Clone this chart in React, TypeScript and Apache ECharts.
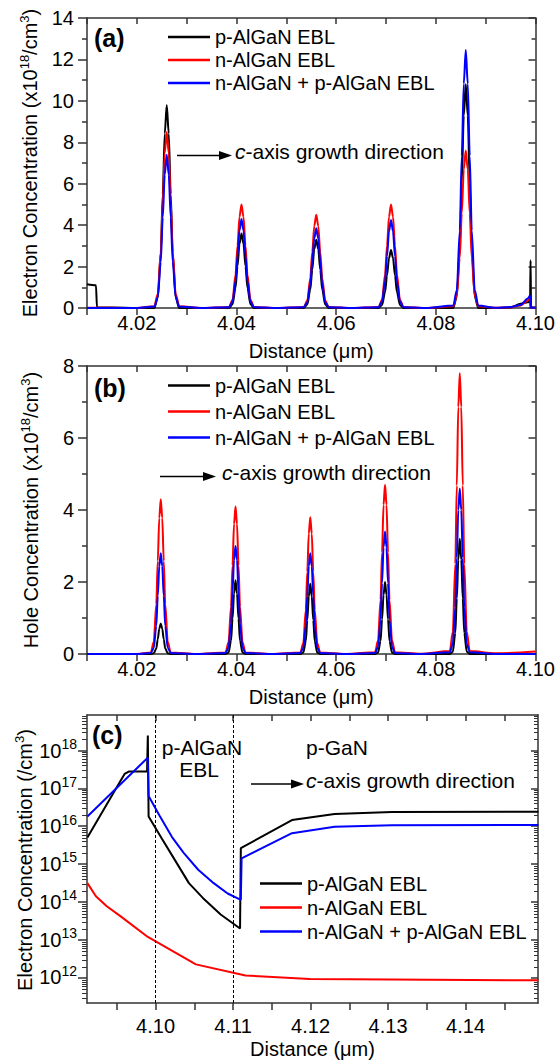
import React, { useEffect, useRef } from 'react';
import * as echarts from 'echarts';

const FONT = "'Liberation Sans', Arial, Helvetica, sans-serif";
const NAMES = ['p-AlGaN EBL', 'n-AlGaN EBL', 'n-AlGaN + p-AlGaN EBL'];
const COLORS = ['#000000', '#ff0000', '#0000ff'];
const AXIS_COLOR = '#333333';

// ---------- Panel (a): electron concentration (x10^18 /cm^3) ----------
const distA = [
  4.0100, 4.0118, 4.0120, 4.0150, 4.0200,
  4.0235, 4.0242, 4.0248, 4.0252, 4.0256, 4.0260, 4.0264, 4.0268, 4.0272, 4.0278, 4.0285,
  4.0330,
  4.0385, 4.0392, 4.0398, 4.0402, 4.0406, 4.0410, 4.0414, 4.0418, 4.0422, 4.0428, 4.0435,
  4.0480,
  4.0535, 4.0542, 4.0548, 4.0552, 4.0556, 4.0560, 4.0564, 4.0568, 4.0572, 4.0578, 4.0585,
  4.0630,
  4.0685, 4.0692, 4.0698, 4.0702, 4.0706, 4.0710, 4.0714, 4.0718, 4.0722, 4.0728, 4.0735,
  4.0780,
  4.0835, 4.0842, 4.0848, 4.0852, 4.0856, 4.0860, 4.0864, 4.0868, 4.0872, 4.0878, 4.0885,
  4.0920, 4.0950, 4.0970, 4.0984, 4.0989, 4.0990, 4.0991, 4.0995, 4.1000,
];
const elecA_p = [
  1.15, 1.1, 0.03, 0.02, 0,
  0, 0.49, 2.65, 5.49, 8.43, 9.8, 8.43, 5.49, 2.65, 0.49, 0,
  0,
  0, 0.18, 0.97, 2.02, 3.10, 3.6, 3.10, 2.02, 0.97, 0.18, 0,
  0,
  0, 0.17, 0.89, 1.85, 2.84, 3.3, 2.84, 1.85, 0.89, 0.17, 0,
  0,
  0, 0.14, 0.76, 1.57, 2.41, 2.8, 2.41, 1.57, 0.76, 0.14, 0,
  0,
  0, 0.54, 2.92, 6.05, 9.29, 10.8, 9.29, 6.05, 2.92, 0.54, 0,
  0, 0.02, 0.2, 0.28, 0.3, 2.3, 0.05, 0.03, 0.02,
];
const elecA_n = [
  0.01, 0.01, 0.01, 0.01, 0,
  0.09, 0.68, 2.72, 5.10, 7.48, 8.5, 7.48, 5.10, 2.72, 0.68, 0.09,
  0,
  0.05, 0.40, 1.60, 3.00, 4.40, 5.0, 4.40, 3.00, 1.60, 0.40, 0.05,
  0,
  0.05, 0.36, 1.44, 2.70, 3.96, 4.5, 3.96, 2.70, 1.44, 0.36, 0.05,
  0,
  0.05, 0.40, 1.60, 3.00, 4.40, 5.0, 4.40, 3.00, 1.60, 0.40, 0.05,
  0,
  0.08, 0.61, 2.43, 4.56, 6.69, 7.6, 6.69, 4.56, 2.43, 0.61, 0.08,
  0.01, 0.04, 0.12, 0.35, 0.5, 0.02, 0.01, 0.01, 0.01,
];
const elecA_np = [
  0, 0, 0, 0, 0,
  0.07, 0.52, 2.22, 4.37, 6.44, 7.4, 6.44, 4.37, 2.22, 0.52, 0.07,
  0,
  0.04, 0.30, 1.29, 2.54, 3.74, 4.3, 3.74, 2.54, 1.29, 0.30, 0.04,
  0,
  0.04, 0.27, 1.16, 2.27, 3.35, 3.85, 3.35, 2.27, 1.16, 0.27, 0.04,
  0,
  0.04, 0.30, 1.28, 2.51, 3.70, 4.25, 3.70, 2.51, 1.28, 0.30, 0.04,
  0,
  0.12, 0.87, 3.74, 7.35, 10.83, 12.45, 10.83, 7.35, 3.74, 0.87, 0.12,
  0.01, 0.05, 0.15, 0.45, 0.6, 0.02, 0.01, 0.01, 0.01,
];

// ---------- Panel (b): hole concentration (x10^18 /cm^3) ----------
const distB = [
  4.0100, 4.0200,
  4.0228, 4.0234, 4.0239, 4.0242, 4.0245, 4.0248, 4.0251, 4.0254, 4.0257, 4.0262, 4.0268,
  4.0320,
  4.0378, 4.0384, 4.0389, 4.0392, 4.0395, 4.0398, 4.0401, 4.0404, 4.0407, 4.0412, 4.0418,
  4.0470,
  4.0528, 4.0534, 4.0539, 4.0542, 4.0545, 4.0548, 4.0551, 4.0554, 4.0557, 4.0562, 4.0568,
  4.0620,
  4.0678, 4.0684, 4.0689, 4.0692, 4.0695, 4.0698, 4.0701, 4.0704, 4.0707, 4.0712, 4.0718,
  4.0770,
  4.0828, 4.0834, 4.0839, 4.0842, 4.0845, 4.0848, 4.0851, 4.0854, 4.0857, 4.0862, 4.0868,
  4.0920, 4.1000,
];
const holeB_p = [
  0, 0,
  0, 0.02, 0.15, 0.41, 0.70, 0.85, 0.70, 0.41, 0.15, 0.02, 0,
  0,
  0, 0.04, 0.37, 0.98, 1.68, 2.05, 1.68, 0.98, 0.37, 0.04, 0,
  0,
  0, 0.04, 0.35, 0.94, 1.60, 1.95, 1.60, 0.94, 0.35, 0.04, 0,
  0,
  0, 0.04, 0.36, 0.96, 1.64, 2.0, 1.64, 0.96, 0.36, 0.04, 0,
  0,
  0, 0.06, 0.58, 1.54, 2.62, 3.2, 2.62, 1.54, 0.58, 0.06, 0,
  0, 0,
];
const holeB_n = [
  0, 0,
  0.04, 0.34, 1.38, 2.58, 3.78, 4.3, 3.78, 2.58, 1.38, 0.34, 0.04,
  0,
  0.04, 0.33, 1.31, 2.46, 3.61, 4.1, 3.61, 2.46, 1.31, 0.33, 0.04,
  0,
  0.04, 0.30, 1.22, 2.28, 3.34, 3.8, 3.34, 2.28, 1.22, 0.30, 0.04,
  0,
  0.05, 0.38, 1.50, 2.82, 4.14, 4.7, 4.14, 2.82, 1.50, 0.38, 0.05,
  0.005,
  0.08, 0.62, 2.50, 4.68, 6.86, 7.8, 6.86, 4.68, 2.50, 0.62, 0.08,
  0.02, 0.07,
];
const holeB_np = [
  0, 0,
  0.03, 0.17, 0.78, 1.62, 2.44, 2.8, 2.44, 1.62, 0.78, 0.17, 0.03,
  0,
  0.03, 0.18, 0.84, 1.74, 2.61, 3.0, 2.61, 1.74, 0.84, 0.18, 0.03,
  0,
  0.03, 0.17, 0.78, 1.62, 2.44, 2.8, 2.44, 1.62, 0.78, 0.17, 0.03,
  0,
  0.03, 0.20, 0.95, 1.97, 2.96, 3.4, 2.96, 1.97, 0.95, 0.20, 0.03,
  0,
  0.05, 0.28, 1.29, 2.67, 4.00, 4.6, 4.00, 2.67, 1.29, 0.28, 0.05,
  0, 0,
];

// ---------- Panel (c): electron concentration (/cm^3), log scale ----------
const distC_p = [4.0912, 4.0955, 4.0960, 4.0966, 4.0989, 4.0990, 4.0991, 4.1008, 4.1025, 4.1043, 4.1061, 4.1084, 4.1109, 4.1110, 4.1176, 4.1231, 4.1305, 4.1494];
const elecC_p = [5.0e15, 1.6e17, 2.4e17, 2.8e17, 2.8e17, 2.5e18, 1.8e16, 4.7e15, 1.26e15, 3.1e14, 1.26e14, 4.6e13, 1.95e13, 2.6e15, 1.45e16, 2.1e16, 2.35e16, 2.4e16];
const distC_n = [4.0912, 4.0923, 4.0937, 4.0955, 4.0990, 4.1052, 4.1116, 4.1199, 4.1494];
const elecC_n = [3.1e14, 1.4e14, 7.6e13, 4.1e13, 1.17e13, 2.2e12, 1.12e12, 9.0e11, 8.3e11];
const distC_np = [4.0912, 4.0990, 4.0991, 4.1005, 4.1021, 4.1036, 4.1055, 4.1075, 4.1093, 4.1110, 4.1111, 4.1176, 4.1231, 4.1305, 4.1494];
const elecC_np = [1.8e16, 6.5e17, 6.3e16, 1.9e16, 5.2e15, 2.0e15, 7.0e14, 3.1e14, 1.65e14, 1.12e14, 1.4e15, 6.5e15, 9.6e15, 1.05e16, 1.07e16];
const layerBoundaries = [4.0991, 4.1114];

// ---------- Axis ticks ----------
const xTicksAB = [4.01, 4.02, 4.03, 4.04, 4.05, 4.06, 4.07, 4.08, 4.09, 4.10];
const xLabelsAB = [4.02, 4.04, 4.06, 4.08, 4.10];
const xTicksC = [4.095, 4.10, 4.105, 4.11, 4.115, 4.12, 4.125, 4.13, 4.135, 4.14, 4.145];
const xLabelsC = [4.10, 4.11, 4.12, 4.13, 4.14];
const decadesC = [12, 13, 14, 15, 16, 17, 18];
const C_MIN = 11.32;
const C_MAX = 18.94;
const X_C_MIN = 4.09115;
const X_C_MAX = 4.14935;

const minorDecadeTicks: number[] = [];
for (let n = 11; n <= 18; n++) {
  for (let k = 2; k <= 9; k++) {
    const v = n + Math.log10(k);
    if (v > C_MIN && v < C_MAX) minorDecadeTicks.push(v);
  }
}

const pairs = (xs: number[], ys: number[]) => xs.map((x, i) => [x, ys[i]]);
const logPairs = (xs: number[], ys: number[]) => xs.map((x, i) => [x, Math.log10(ys[i])]);

const tickLine = { color: AXIS_COLOR, width: 1.5 };
const axisLine = { show: true, onZero: false, lineStyle: { color: AXIS_COLOR, width: 1.5 } };
const labelText = { fontFamily: FONT, fontSize: 20, color: '#000' };

function bottomX(grid: number, min: number, max: number, ticks: number[], labels: number[], gap: number, margin: number) {
  return {
    type: 'value', gridIndex: grid, position: 'bottom', min, max,
    axisLine, splitLine: { show: false },
    axisTick: { show: true, inside: false, length: 7, customValues: ticks, lineStyle: tickLine },
    axisLabel: { show: true, customValues: labels, margin, formatter: (v: number) => v.toFixed(2), ...labelText },
    name: 'Distance (μm)', nameLocation: 'middle', nameGap: gap,
    nameTextStyle: { fontFamily: FONT, fontSize: 20, color: '#000' },
  };
}
function topX(grid: number, min: number, max: number, ticks: number[]) {
  return {
    type: 'value', gridIndex: grid, position: 'top', min, max,
    axisLine, splitLine: { show: false },
    axisTick: { show: true, inside: true, length: 6, customValues: ticks, lineStyle: tickLine },
    axisLabel: { show: false },
  };
}
function linearY(grid: number, max: number, right: boolean) {
  return {
    type: 'value', gridIndex: grid, position: right ? 'right' : 'left', min: 0, max, interval: 2,
    axisLine, splitLine: { show: false },
    axisTick: { show: true, inside: right, length: right ? 7 : 9, lineStyle: tickLine },
    minorTick: { show: true, splitNumber: 2, length: right ? 4 : 5, lineStyle: tickLine },
    axisLabel: { show: !right, margin: 13, ...labelText },
  };
}

const supRich = {
  b: { fontFamily: FONT, fontSize: 20, color: '#000' },
  s: { fontFamily: FONT, fontSize: 14, color: '#000', padding: [0, 0, 13, 0] },
};

const titleRich = {
  t: { fontFamily: FONT, fontSize: 20, color: '#000' },
  s: { fontFamily: FONT, fontSize: 13, color: '#000', padding: [0, 0, 11, 0] },
};
const noteRich = {
  i: { fontFamily: FONT, fontSize: 21, fontStyle: 'italic', color: '#000' },
  n: { fontFamily: FONT, fontSize: 21, color: '#000' },
};

function arrow(x1: number, x2: number, y: number, textX: number) {
  return [
    { type: 'line', shape: { x1, y1: y, x2: x2 - 10, y2: y }, style: { stroke: '#000', lineWidth: 1.5 } },
    { type: 'polygon', shape: { points: [[x2 - 13, y - 4.5], [x2, y], [x2 - 13, y + 4.5]] }, style: { fill: '#000' } },
    {
      type: 'text', x: textX, y: y - 4,
      style: { text: '{i|c}{n|-axis growth direction}', rich: noteRich, align: 'left', verticalAlign: 'middle' },
    },
  ];
}
function plain(text: string, x: number, y: number, size: number, align: string, bold = false) {
  return {
    type: 'text', x, y,
    style: { text, fontFamily: FONT, fontSize: size, fontWeight: bold ? 'bold' : 'normal', fill: '#000', align, verticalAlign: 'middle' },
  };
}
function yTitle(text: string, x: number, y: number) {
  return {
    type: 'text', x, y, rotation: Math.PI / 2,
    style: { text, rich: titleRich, align: 'center', verticalAlign: 'middle' },
  };
}

function legend(top: number, gap: number, left: number) {
  return {
    data: NAMES, orient: 'vertical', left, top, padding: 0,
    icon: 'rect', itemWidth: 42, itemHeight: 2.5, itemGap: gap, selectedMode: false,
    textStyle: { fontFamily: FONT, fontSize: 20, color: '#000' },
  };
}

function series(idx: number, xAxisIndex: number, yAxisIndex: number, data: number[][], smooth: number | boolean, extra: any = {}) {
  return {
    type: 'line', name: NAMES[idx], xAxisIndex, yAxisIndex, data,
    symbol: 'none', showSymbol: false, smooth, smoothMonotone: 'x',
    lineStyle: { color: COLORS[idx], width: 2 }, itemStyle: { color: COLORS[idx] },
    z: 2 + idx, ...extra,
  };
}

const option: any = {
  animation: false,
  backgroundColor: '#ffffff',
  grid: [
    { left: 87, top: 18, width: 451, height: 290 },
    { left: 87, top: 366, width: 451, height: 288 },
    { left: 87, top: 715, width: 451, height: 289 },
    { left: 87, top: 715, width: 451, height: 289 },
  ],
  xAxis: [
    bottomX(0, 4.01, 4.10, xTicksAB, xLabelsAB, 33, 5),
    topX(0, 4.01, 4.10, xTicksAB),
    bottomX(1, 4.01, 4.10, xTicksAB, xLabelsAB, 33, 5),
    topX(1, 4.01, 4.10, xTicksAB),
    bottomX(2, X_C_MIN, X_C_MAX, xTicksC, xLabelsC, 36, 13),
    topX(2, X_C_MIN, X_C_MAX, xTicksC),
    { type: 'value', gridIndex: 3, min: X_C_MIN, max: X_C_MAX, show: false },
  ],
  yAxis: [
    linearY(0, 14, false),
    linearY(0, 14, true),
    linearY(1, 8, false),
    linearY(1, 8, true),
    {
      type: 'value', gridIndex: 2, position: 'left', min: C_MIN, max: C_MAX,
      axisLine, splitLine: { show: false },
      axisTick: { show: true, inside: false, length: 9, customValues: decadesC, lineStyle: tickLine },
      axisLabel: {
        show: true, customValues: decadesC, margin: 10,
        formatter: (v: number) => `{b|10}{s|${Math.round(v)}}`, rich: supRich,
      },
    },
    {
      type: 'value', gridIndex: 2, position: 'right', min: C_MIN, max: C_MAX,
      axisLine, splitLine: { show: false },
      axisTick: { show: true, inside: true, length: 7, customValues: decadesC, lineStyle: tickLine },
      axisLabel: { show: false },
    },
    {
      type: 'value', gridIndex: 3, position: 'left', min: C_MIN, max: C_MAX,
      axisLine: { show: false }, splitLine: { show: false },
      axisTick: { show: true, inside: false, length: 5, customValues: minorDecadeTicks, lineStyle: { color: AXIS_COLOR, width: 1 } },
      axisLabel: { show: false },
    },
    {
      type: 'value', gridIndex: 3, position: 'right', min: C_MIN, max: C_MAX,
      axisLine: { show: false }, splitLine: { show: false },
      axisTick: { show: true, inside: true, length: 4, customValues: minorDecadeTicks, lineStyle: { color: AXIS_COLOR, width: 1 } },
      axisLabel: { show: false },
    },
  ],
  legend: [legend(27, 3, 168), legend(375.5, 6, 168), legend(873.5, 4, 260)],
  series: [
    series(0, 0, 0, pairs(distA, elecA_p), 0.3),
    series(1, 0, 0, pairs(distA, elecA_n), 0.3),
    series(2, 0, 0, pairs(distA, elecA_np), 0.3),
    series(0, 2, 2, pairs(distB, holeB_p), 0.3),
    series(1, 2, 2, pairs(distB, holeB_n), 0.3),
    series(2, 2, 2, pairs(distB, holeB_np), 0.3),
    series(0, 4, 4, logPairs(distC_p, elecC_p), false, {
      markLine: {
        silent: true, symbol: ['none', 'none'], label: { show: false },
        lineStyle: { color: '#000', width: 1, type: [3, 2] },
        data: layerBoundaries.map((x) => ({ xAxis: x })),
      },
    }),
    series(1, 4, 4, logPairs(distC_n, elecC_n), false),
    series(2, 4, 4, logPairs(distC_np, elecC_np), false),
  ],
  graphic: [
    yTitle('{t|Electron Concentration (x10}{s|18}{t|/cm}{s|3}{t|)}', 30, 163),
    yTitle('{t|Hole Concentration (x10}{s|18}{t|/cm}{s|3}{t|)}', 31, 510),
    yTitle('{t|Electron Concentration (/cm}{s|3}{t|)}', 25, 860),
    plain('(a)', 94, 37.5, 25, 'left', true),
    plain('(b)', 94, 388, 25, 'left', true),
    plain('(c)', 92, 735, 25, 'left', true),
    plain('p-AlGaN', 202, 747, 21, 'center'),
    plain('EBL', 199, 769, 21, 'center'),
    plain('p-GaN', 337, 747, 21, 'center'),
    ...arrow(177, 232, 155.5, 235),
    ...arrow(160, 216, 476.5, 222),
    ...arrow(251, 304, 784, 306),
  ],
};

export default function App() {
  const ref = useRef<HTMLDivElement>(null);
  useEffect(() => {
    document.body.style.margin = '0';
    const chart = echarts.init(ref.current as HTMLDivElement, null, { renderer: 'svg' });
    chart.setOption(option);
    return () => chart.dispose();
  }, []);
  return <div ref={ref} style={{ width: 558, height: 1060 }} />;
}
